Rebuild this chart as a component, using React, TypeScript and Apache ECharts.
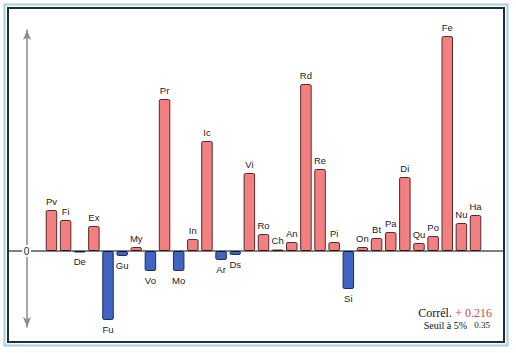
import React, { useEffect, useRef } from "react";
import * as echarts from "echarts";

const categories = ["Pv","Fi","De","Ex","Fu","Gu","My","Vo","Pr","Mo","In","Ic","Ar","Ds","Vi","Ro","Ch","An","Rd","Re","Pi","Si","On","Bt","Pa","Di","Qu","Po","Fe","Nu","Ha"];
const values = [41, 31, -1.5, 25, -69, -5, 4, -20, 152, -20, 12, 110, -9, -4, 78, 17, 1.5, 9, 167, 82, 9, -38, 4, 13, 19, 74, 8, 15, 215, 28, 36];
const yMin = -76;
const yMax = 221;
const zeroLabel = "0";
const correlLabel = "Corrél.";
const correlValue = "+ 0.216";
const seuilLabel = "Seuil à 5%";
const seuilValue = "0.35";

export default function App() {
  const ref = useRef<HTMLDivElement>(null);
  useEffect(() => {
    if (!ref.current) return;
    const chart = echarts.init(ref.current, null, { renderer: "svg" });
    const data = values.map((v) => ({
      value: v,
      itemStyle: {
        color: v >= 0 ? "#F38080" : "#3F64C2",
        borderColor: v >= 0 ? "#5a2a2a" : "#1e2c5a",
      },
      label: { position: v >= 0 ? "top" : "bottom" },
    }));
    chart.setOption({
      animation: false,
      backgroundColor: "#ffffff",
      grid: { left: 44.4, right: 33.4, top: 30, bottom: 26 },
      xAxis: {
        type: "category",
        data: categories,
        axisLine: { show: false },
        axisTick: { show: false },
        axisLabel: { show: false },
      },
      yAxis: {
        type: "value",
        min: yMin,
        max: yMax,
        offset: 17.4,
        axisLine: {
          show: true,
          onZero: false,
          symbol: ["arrow", "arrow"],
          symbolSize: [6, 10],
          lineStyle: { color: "#8a8a8a", width: 1.5 },
        },
        axisTick: { show: false },
        axisLabel: { show: false },
        splitLine: { show: false },
      },
      series: [
        {
          type: "bar",
          data,
          barWidth: 11.5,
          itemStyle: { borderWidth: 1, borderRadius: 1.5 },
          label: {
            show: true,
            formatter: (p: any) => categories[p.dataIndex],
            fontFamily: "Liberation Sans",
            fontSize: 9.5,
            color: "#222",
            distance: 4,
          },
        },
      ],
    });
    const y0 = chart.convertToPixel({ yAxisIndex: 0 }, 0) as number;
    chart.setOption({
      graphic: [
        { type: "rect", shape: { x: 4.5, y: 4.5, width: 503, height: 341 }, style: { fill: "none", stroke: "#a3d0da", lineWidth: 2 }, z: 10 },
        { type: "rect", shape: { x: 8, y: 8, width: 496, height: 334 }, style: { fill: "none", stroke: "#1d2e44", lineWidth: 2 }, z: 10 },
        { type: "line", shape: { x1: 8, y1: y0, x2: 22, y2: y0 }, style: { stroke: "#000", lineWidth: 1 }, z: 5 },
        { type: "line", shape: { x1: 31, y1: y0, x2: 504, y2: y0 }, style: { stroke: "#000", lineWidth: 1 }, z: 5 },
        {
          type: "text", x: 26.6, y: y0, z: 6,
          style: { text: zeroLabel, fontFamily: "Liberation Sans", fontSize: 10, fill: "#222", align: "center", verticalAlign: "middle", backgroundColor: "#fff", padding: [1, 1] },
        },
        {
          type: "text", x: 492, y: 313, z: 6,
          style: {
            text: "{a|" + correlLabel + "} {b|" + correlValue + "}",
            align: "right", verticalAlign: "middle",
            rich: {
              a: { fontFamily: "Liberation Serif", fontSize: 12, fill: "#111" },
              b: { fontFamily: "Liberation Serif", fontSize: 12, fill: "#d04545" },
            },
          },
        },
        {
          type: "text", x: 467, y: 325, z: 6,
          style: { text: seuilLabel, fontFamily: "Liberation Serif", fontSize: 10, fill: "#111", align: "right", verticalAlign: "middle" },
        },
        {
          type: "text", x: 490, y: 325, z: 6,
          style: { text: seuilValue, fontFamily: "Liberation Serif", fontSize: 9, fill: "#111", align: "right", verticalAlign: "middle" },
        },
      ],
    });
    return () => chart.dispose();
  }, []);
  return <div ref={ref} style={{ position: "fixed", left: 0, top: 0, width: 516, height: 353 }} />;
}
